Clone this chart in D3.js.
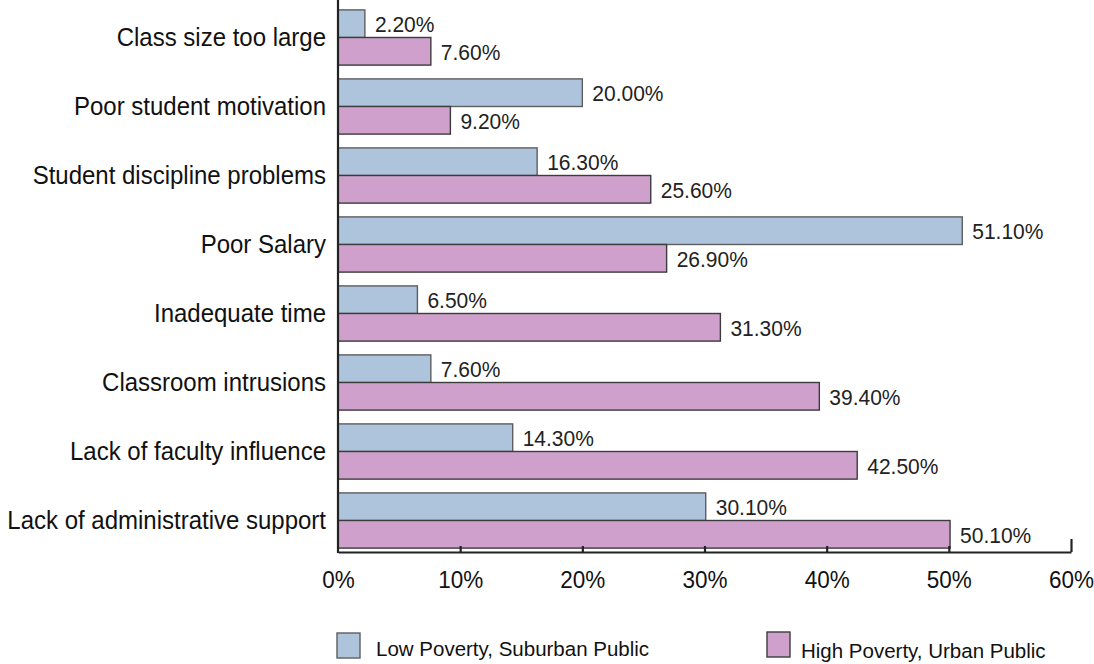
<!DOCTYPE html>
<html>
<head>
<meta charset="utf-8">
<script src="https://cdn.jsdelivr.net/npm/d3@7"></script>
<style>
  html, body { margin: 0; padding: 0; background: #fff; }
  svg { display: block; font-family: "Liberation Sans", Arial, sans-serif; }
</style>
</head>
<body>
<svg id="chart" width="1094" height="664"></svg>
<script>
// data
const categories = [
  "Class size too large",
  "Poor student motivation",
  "Student discipline problems",
  "Poor Salary",
  "Inadequate time",
  "Classroom intrusions",
  "Lack of faculty influence",
  "Lack of administrative support"
];
const lowPoverty = [2.2, 20.0, 16.3, 51.1, 6.5, 7.6, 14.3, 30.1];
const highPoverty = [7.6, 9.2, 25.6, 26.9, 31.3, 39.4, 42.5, 50.1];
const seriesNames = ["Low Poverty, Suburban Public", "High Poverty, Urban Public"];
const tickValues = [0, 10, 20, 30, 40, 50, 60];

const colors = { low: "#adc4dc", high: "#cea0cb" };
const strokes = { low: "#5e5e5e", high: "#3c3c3c" };

const svg = d3.select("#chart");

const x = d3.scaleLinear().domain([0, 60]).range([338, 1071]);
const y = d3.scaleBand().domain(categories).range([3, 555])
  .paddingInner(0.2).paddingOuter(0.1);
const sub = d3.scaleBand().domain(["low", "high"]).range([0, y.bandwidth()]);

const rows = categories.map((c, i) => ({ cat: c, low: lowPoverty[i], high: highPoverty[i] }));

// text in the reference is a touch taller than Liberation Sans at the same width
function tall(sel, px, py, sy) {
  sel.attr("transform", (d, i) => `translate(${px(d, i)},${py(d, i)}) scale(1,${sy})`);
}

const g = svg.append("g");

// bars
["low", "high"].forEach(key => {
  g.selectAll("rect." + key)
    .data(rows)
    .enter()
    .append("rect")
    .attr("class", key)
    .attr("x", x(0))
    .attr("y", d => y(d.cat) + sub(key))
    .attr("width", d => x(d[key]) - x(0))
    .attr("height", sub.bandwidth())
    .attr("fill", colors[key])
    .attr("stroke", strokes[key])
    .attr("stroke-width", 1.4);

  g.selectAll("text.v" + key)
    .data(rows)
    .enter()
    .append("text")
    .attr("dy", "0.36em")
    .attr("font-size", 21)
    .attr("fill", "#222")
    .text(d => d[key].toFixed(2) + "%")
    .call(tall, d => x(d[key]) + 10, d => y(d.cat) + sub(key) + sub.bandwidth() / 2 + (key === "high" ? 1 : 0), 1.06);
});

// category labels
g.selectAll("text.cat")
  .data(categories)
  .enter()
  .append("text")
  .attr("dy", "0.36em")
  .attr("text-anchor", "end")
  .attr("font-size", 24)
  .attr("fill", "#111")
  .text(d => d)
  .call(tall, () => 326, d => y(d) + y.bandwidth() / 2, 1.04);

// x axis
const axisY = 552;
const xAxis = d3.axisBottom(x)
  .tickValues(tickValues)
  .tickSizeInner(-6)
  .tickSizeOuter(0)
  .tickFormat(d => d + "%");
const ax = svg.append("g").attr("transform", `translate(0,${axisY})`).call(xAxis);
ax.select(".domain").attr("stroke", "#222").attr("stroke-width", 2.2);
ax.selectAll(".tick line").attr("stroke", "#222").attr("stroke-width", 2.2);
ax.selectAll(".tick").filter(d => d === 60).select("line").attr("y2", -13);
ax.selectAll(".tick").filter(d => d === 0).select("line").remove();
ax.selectAll(".tick text")
  .attr("font-size", 22.5)
  .attr("font-family", "Liberation Sans, Arial, sans-serif")
  .attr("fill", "#111")
  .attr("y", null)
  .attr("dy", null)
  .call(tall, () => 0, () => 36, 1.08);

// y axis line
svg.append("line")
  .attr("x1", x(0)).attr("x2", x(0))
  .attr("y1", 0).attr("y2", axisY + 1)
  .attr("stroke", "#222").attr("stroke-width", 2.2);

// legend
const legend = [
  { key: "low", name: seriesNames[0], bx: 337, by: 633, tx: 376, ty: 656 },
  { key: "high", name: seriesNames[1], bx: 767, by: 632, tx: 801, ty: 658 }
];
const lg = svg.selectAll("g.legend").data(legend).enter().append("g");
lg.append("rect")
  .attr("x", d => d.bx).attr("y", d => d.by)
  .attr("width", 23).attr("height", 25)
  .attr("fill", d => colors[d.key])
  .attr("stroke", d => strokes[d.key])
  .attr("stroke-width", 1.4);
lg.append("text")
  .attr("x", d => d.tx).attr("y", d => d.ty)
  .attr("font-size", 20.5)
  .attr("fill", "#111")
  .text(d => d.name);
</script>
</body>
</html>
